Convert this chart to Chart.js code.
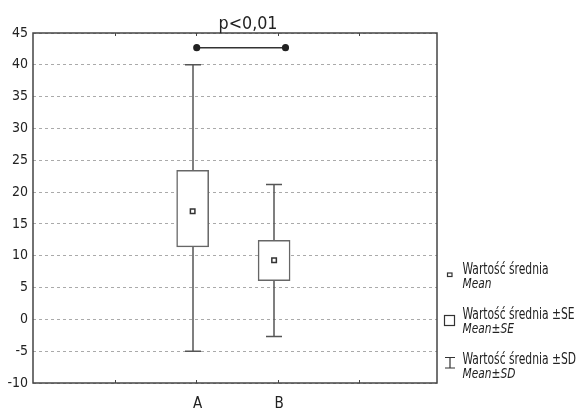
<!DOCTYPE html>
<html>
<head>
<meta charset="utf-8">
<script src="https://cdn.jsdelivr.net/npm/chart.js@4/dist/chart.umd.min.js"></script>
<style>
  html, body { margin: 0; padding: 0; background: #fff; }
  canvas { display: block; }
</style>
</head>
<body>
<canvas id="chart" width="579" height="408"></canvas>
<script>
// Values
const categories = ["A", "B"];
const catPositions = [2, 3];
const means = [17.0, 9.3];
const seLow = [11.4, 6.1];
const seHigh = [23.4, 12.4];
const sdLow = [-5.0, -2.7];
const sdHigh = [40.0, 21.2];

const sigX = [2.05, 3.14];
const sigY = 42.7;
const sigLabel = "p<0,01";

const legendLines = [
  ["Wartość średnia", "Mean"],
  ["Wartość średnia ±SE", "Mean±SE"],
  ["Wartość średnia ±SD", "Mean±SD"],
];

const FONT = "'Liberation Sans Narrow', 'DejaVu Sans Condensed', 'Liberation Sans', sans-serif";

// draw text squeezed horizontally (the original uses a condensed face)
function squeezedText(ctx, text, x, y, font, sx) {
  ctx.save();
  ctx.font = font;
  ctx.translate(x, y);
  ctx.scale(sx, 1);
  ctx.fillText(text, 0, 0);
  ctx.restore();
}

function fitScale(ctx, text, font, target) {
  ctx.font = font;
  return Math.min(1, target / ctx.measureText(text).width);
}

// whiskers, frame, inward ticks, title and legend
const extras = {
  id: "extras",
  beforeDatasetsDraw(chart) {
    const ctx = chart.ctx;
    const x = chart.scales.x, y = chart.scales.y;
    ctx.save();
    ctx.strokeStyle = "#555";
    ctx.lineWidth = 1.5;
    catPositions.forEach((pos, i) => {
      const px = Math.round(x.getPixelForValue(pos));
      const top = y.getPixelForValue(sdHigh[i]);
      const bot = y.getPixelForValue(sdLow[i]);
      ctx.beginPath();
      ctx.moveTo(px, top); ctx.lineTo(px, bot);
      ctx.moveTo(px - 8, top); ctx.lineTo(px + 8, top);
      ctx.moveTo(px - 8, bot); ctx.lineTo(px + 8, bot);
      ctx.stroke();
    });
    ctx.restore();
  },
  afterDraw(chart) {
    const ctx = chart.ctx;
    const a = chart.chartArea;
    const x = chart.scales.x;
    ctx.save();
    // frame
    ctx.strokeStyle = "#444";
    ctx.lineWidth = 1.5;
    ctx.strokeRect(a.left, a.top, a.right - a.left, a.bottom - a.top);
    // inward ticks top and bottom
    ctx.lineWidth = 1;
    for (let v = 1; v <= 4; v++) {
      const px = Math.round(x.getPixelForValue(v + 0.045)) + 0.5;
      ctx.beginPath();
      ctx.moveTo(px, a.bottom); ctx.lineTo(px, a.bottom - 3);
      ctx.moveTo(px, a.top); ctx.lineTo(px, a.top + 3);
      ctx.stroke();
    }
    // significance label
    ctx.fillStyle = "#222";
    ctx.textAlign = "left";
    ctx.textBaseline = "alphabetic";
    const tf = "18px " + FONT;
    const ts = fitScale(ctx, sigLabel, tf, 59);
    ctx.font = tf;
    const tw = ctx.measureText(sigLabel).width * ts;
    squeezedText(ctx, sigLabel, 248 - tw / 2, 29, tf, ts);

    // legend markers
    ctx.strokeStyle = "#333";
    ctx.lineWidth = 1.2;
    ctx.strokeRect(447.5, 273, 4.5, 3.5);
    ctx.strokeRect(444.5, 315.5, 10, 10);
    ctx.beginPath();
    ctx.moveTo(445, 357.5); ctx.lineTo(455, 357.5);
    ctx.moveTo(450, 357.5); ctx.lineTo(450, 368);
    ctx.moveTo(445, 368); ctx.lineTo(455, 368);
    ctx.stroke();

    // legend text
    const nf = "16px " + FONT;
    const itf = "italic 14px " + FONT;
    const ns = fitScale(ctx, legendLines[0][0], nf, 86);
    const is = fitScale(ctx, legendLines[0][1], itf, 29);
    const base = [[274, 288], [318.5, 332.5], [363.5, 377.5]];
    legendLines.forEach((pair, i) => {
      squeezedText(ctx, pair[0], 462.5, base[i][0], nf, ns);
      squeezedText(ctx, pair[1], 462.5, base[i][1], itf, is);
    });
    ctx.restore();
  },
};

new Chart(document.getElementById("chart"), {
  data: {
    datasets: [
      {
        type: "bar",
        data: catPositions.map((p, i) => ({ x: p, y: [seLow[i], seHigh[i]] })),
        backgroundColor: "#fff",
        borderColor: "#666",
        borderWidth: 1.5,
        borderSkipped: false,
        barThickness: 32,
        grouped: false,
        order: 2,
      },
      {
        type: "scatter",
        data: catPositions.map((p, i) => ({ x: p, y: means[i] })),
        pointStyle: "rect",
        pointRadius: 3.2,
        backgroundColor: "#fff",
        borderColor: "#333",
        borderWidth: 1.5,
        order: 1,
      },
      {
        type: "line",
        data: sigX.map((v) => ({ x: v, y: sigY })),
        borderColor: "#333",
        borderWidth: 1.5,
        pointRadius: 2.8,
        pointBackgroundColor: "#222",
        pointBorderColor: "#222",
        order: 0,
      },
    ],
  },
  options: {
    responsive: false,
    animation: false,
    layout: { padding: { top: 33, right: 142, bottom: 0, left: 0 } },
    plugins: { legend: { display: false }, tooltip: { enabled: false } },
    scales: {
      x: {
        type: "linear",
        offset: false,
        min: 0.04,
        max: 5,
        afterFit(scale) { scale.height = 25; },
        ticks: {
          stepSize: 1,
          autoSkip: false,
          padding: 4,
          labelOffset: 5,
          color: "#222",
          font: { family: FONT, size: 15 },
          callback: (v) => {
            const i = catPositions.indexOf(v);
            return i >= 0 ? categories[i] : "";
          },
        },
        grid: { display: false },
        border: { display: false },
      },
      y: {
        min: -10,
        max: 45,
        afterFit(scale) { scale.width = 33; },
        ticks: {
          stepSize: 5,
          padding: 5,
          color: "#222",
          font: { family: FONT, size: 14 },
        },
        grid: {
          color: "#aaa",
          lineWidth: 1,
          drawTicks: false,
        },
        border: { display: false, dash: [3, 3] },
      },
    },
  },
  plugins: [extras],
});
</script>
</body>
</html>
